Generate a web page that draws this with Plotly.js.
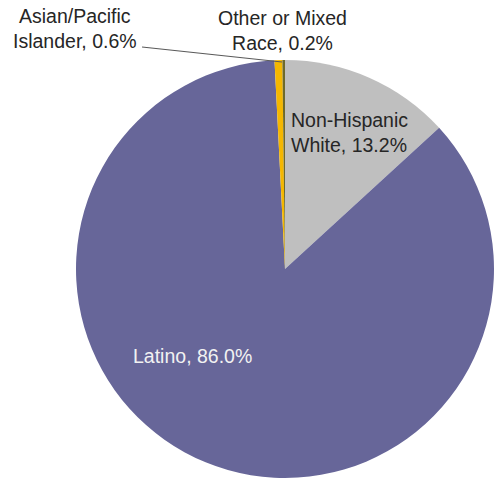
<!DOCTYPE html>
<html>
<head>
<meta charset="utf-8">
<script src="https://cdn.plot.ly/plotly-3.0.1.min.js"></script>
<style>html,body{margin:0;padding:0;background:#fff;overflow:hidden;}</style>
</head>
<body>
<div id="chart" style="width:495px;height:481px;"></div>
<script>
const categories = ["Non-Hispanic White", "Latino", "Asian/Pacific Islander", "Other or Mixed Race"];
const shares = [13.2, 86.0, 0.6, 0.2];
const sliceColors = ["#BFBFBF", "#676699", "#F5B700", "#6E6A2A"];
const labelTexts = ["Non-Hispanic<br>White, 13.2%", "Latino, 86.0%", "Asian/Pacific<br>Islander, 0.6%", "Other or Mixed<br>Race, 0.2%"];

const W = 495, H = 481;
const px = x => x / W;
const py = y => 1 - y / H;
const font = {family: "Liberation Sans, Arial, sans-serif", size: 19.5, color: "#262626"};

const data = [{
  type: "pie",
  labels: categories,
  values: shares,
  sort: false,
  direction: "clockwise",
  rotation: 0,
  textinfo: "none",
  hoverinfo: "label+percent",
  marker: {colors: sliceColors, line: {width: 0}},
  domain: {x: [px(76), px(494)], y: [py(478), py(60)]},
  showlegend: false
}];

const layout = {
  width: W, height: H,
  margin: {l: 0, r: 0, t: 0, b: 0},
  paper_bgcolor: "#fff",
  showlegend: false,
  shapes: [{
    type: "line", xref: "paper", yref: "paper",
    x0: px(142), y0: py(47), x1: px(282), y1: py(62),
    line: {color: "#595959", width: 1.2}
  }],
  annotations: [
    {text: labelTexts[0], xref: "paper", yref: "paper", x: px(289), y: py(133), xanchor: "left", yanchor: "middle", align: "left", showarrow: false, font: font},
    {text: labelTexts[1], xref: "paper", yref: "paper", x: px(192), y: py(356), xanchor: "center", yanchor: "middle", showarrow: false, font: Object.assign({}, font, {color: "#F2F2F2"})},
    {text: labelTexts[2], xref: "paper", yref: "paper", x: px(75), y: py(29), xanchor: "center", yanchor: "middle", align: "center", showarrow: false, font: font},
    {text: labelTexts[3], xref: "paper", yref: "paper", x: px(282), y: py(30), xanchor: "center", yanchor: "middle", align: "center", showarrow: false, font: font}
  ]
};

Plotly.newPlot("chart", data, layout, {displayModeBar: false, staticPlot: true});
</script>
</body>
</html>
